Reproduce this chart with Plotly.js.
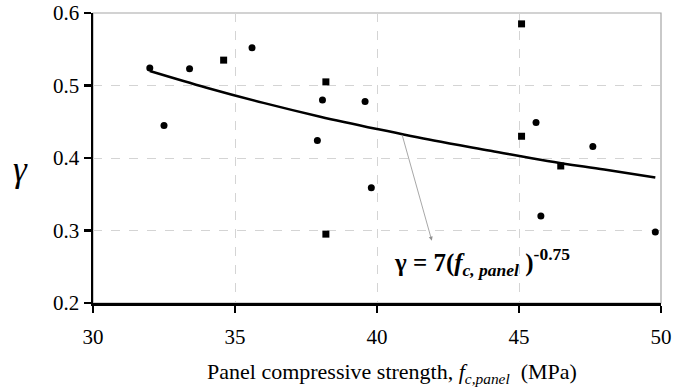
<!DOCTYPE html>
<html>
<head>
<meta charset="utf-8">
<script src="https://cdn.plot.ly/plotly-3.0.1.min.js"></script>
<style>html,body{margin:0;padding:0;background:#fff;}#chart{width:673px;height:387px;}</style>
</head>
<body>
<div id="chart"></div>
<script>
// Data
const circleX = [32.0, 32.5, 33.4, 35.6, 38.08, 37.9, 39.58, 39.8, 45.6, 47.6, 45.77, 49.8];
const circleY = [0.524, 0.445, 0.523, 0.552, 0.480, 0.424, 0.478, 0.359, 0.449, 0.416, 0.320, 0.298];
const squareX = [34.6, 38.2, 38.2, 45.09, 45.09, 46.47];
const squareY = [0.535, 0.505, 0.295, 0.585, 0.430, 0.389];
const curveX = [32, 34, 36, 38, 40, 42, 44, 46, 48, 49.8];
const curveY = [0.520, 0.497, 0.476, 0.457, 0.440, 0.424, 0.410, 0.396, 0.384, 0.373];
const xTickVals = [30, 35, 40, 45, 50];
const xTickText = ["30", "35", "40", "45", "50"];
const yTickVals = [0.2, 0.3, 0.4, 0.5, 0.6];
const yTickText = ["0.2", "0.3", "0.4", "0.5", "0.6"];

const serif = "Liberation Serif";

const traces = [
  {x: circleX, y: circleY, mode: "markers", type: "scatter",
   marker: {symbol: "circle", size: 7, color: "#000"}, hoverinfo: "skip"},
  {x: squareX, y: squareY, mode: "markers", type: "scatter",
   marker: {symbol: "square", size: 7, color: "#000"}, hoverinfo: "skip"},
  {x: curveX, y: curveY, mode: "lines", type: "scatter",
   line: {color: "#000", width: 2.5, shape: "spline"}, hoverinfo: "skip"}
];

const layout = {
  width: 673, height: 387,
  margin: {l: 92.5, r: 12, t: 13.3, b: 84.3},
  paper_bgcolor: "#fff", plot_bgcolor: "#fff",
  showlegend: false,
  font: {family: serif, color: "#000"},
  xaxis: {
    range: [30, 50], tickvals: xTickVals, ticktext: xTickText,
    showline: true, linecolor: "#000", linewidth: 2.5,
    ticks: "outside", ticklen: 7, tickwidth: 2.5, tickcolor: "#000",
    ticklabelstandoff: 6,
    showgrid: true, gridcolor: "#d4d4d4", griddash: "dash", gridwidth: 1,
    zeroline: false,
    tickfont: {family: serif, size: 21, color: "#000"}
  },
  yaxis: {
    range: [0.2, 0.6], tickvals: yTickVals, ticktext: yTickText,
    showline: true, linecolor: "#000", linewidth: 2.5,
    ticks: "outside", ticklen: 7, tickwidth: 2.5, tickcolor: "#000",
    showgrid: true, gridcolor: "#d4d4d4", griddash: "dash", gridwidth: 1,
    zeroline: false,
    tickfont: {family: serif, size: 21, color: "#000"}
  },
  shapes: [
    {type: "rect", xref: "paper", yref: "paper", x0: 0, x1: 1, y0: 0, y1: 1,
     line: {color: "#a6a6a6", width: 1.2}, layer: "below"}
  ],
  annotations: [
    {x: 41.93, y: 0.286, ax: 40.87, ay: 0.434, axref: "x", ayref: "y",
     xref: "x", yref: "y", text: "", showarrow: true, arrowhead: 2,
     arrowsize: 1, arrowwidth: 0.8, arrowcolor: "#909090"},
    {x: 40.52, y: 0.256, xref: "x", yref: "y", xanchor: "left", yanchor: "middle",
     showarrow: false,
     text: "<b>γ = 7(<i>f</i><sub><i>c, panel</i></sub> )<sup>-0.75</sup></b>",
     font: {family: serif, size: 25, color: "#000"}},
    {x: -0.128, y: 0.46, xref: "paper", yref: "paper", xanchor: "center", yanchor: "middle",
     showarrow: false, textangle: 0, text: "<i>γ</i>",
     font: {family: serif, size: 35, color: "#000"}},
    {x: 0.526, y: -0.24, xref: "paper", yref: "paper", xanchor: "center", yanchor: "middle",
     showarrow: false,
     text: "Panel compressive strength, <i>f</i><sub><i>c,panel</i></sub>  (MPa)",
     font: {family: serif, size: 22, color: "#000"}}
  ]
};

Plotly.newPlot("chart", traces, layout, {displayModeBar: false, staticPlot: true});
</script>
</body>
</html>
